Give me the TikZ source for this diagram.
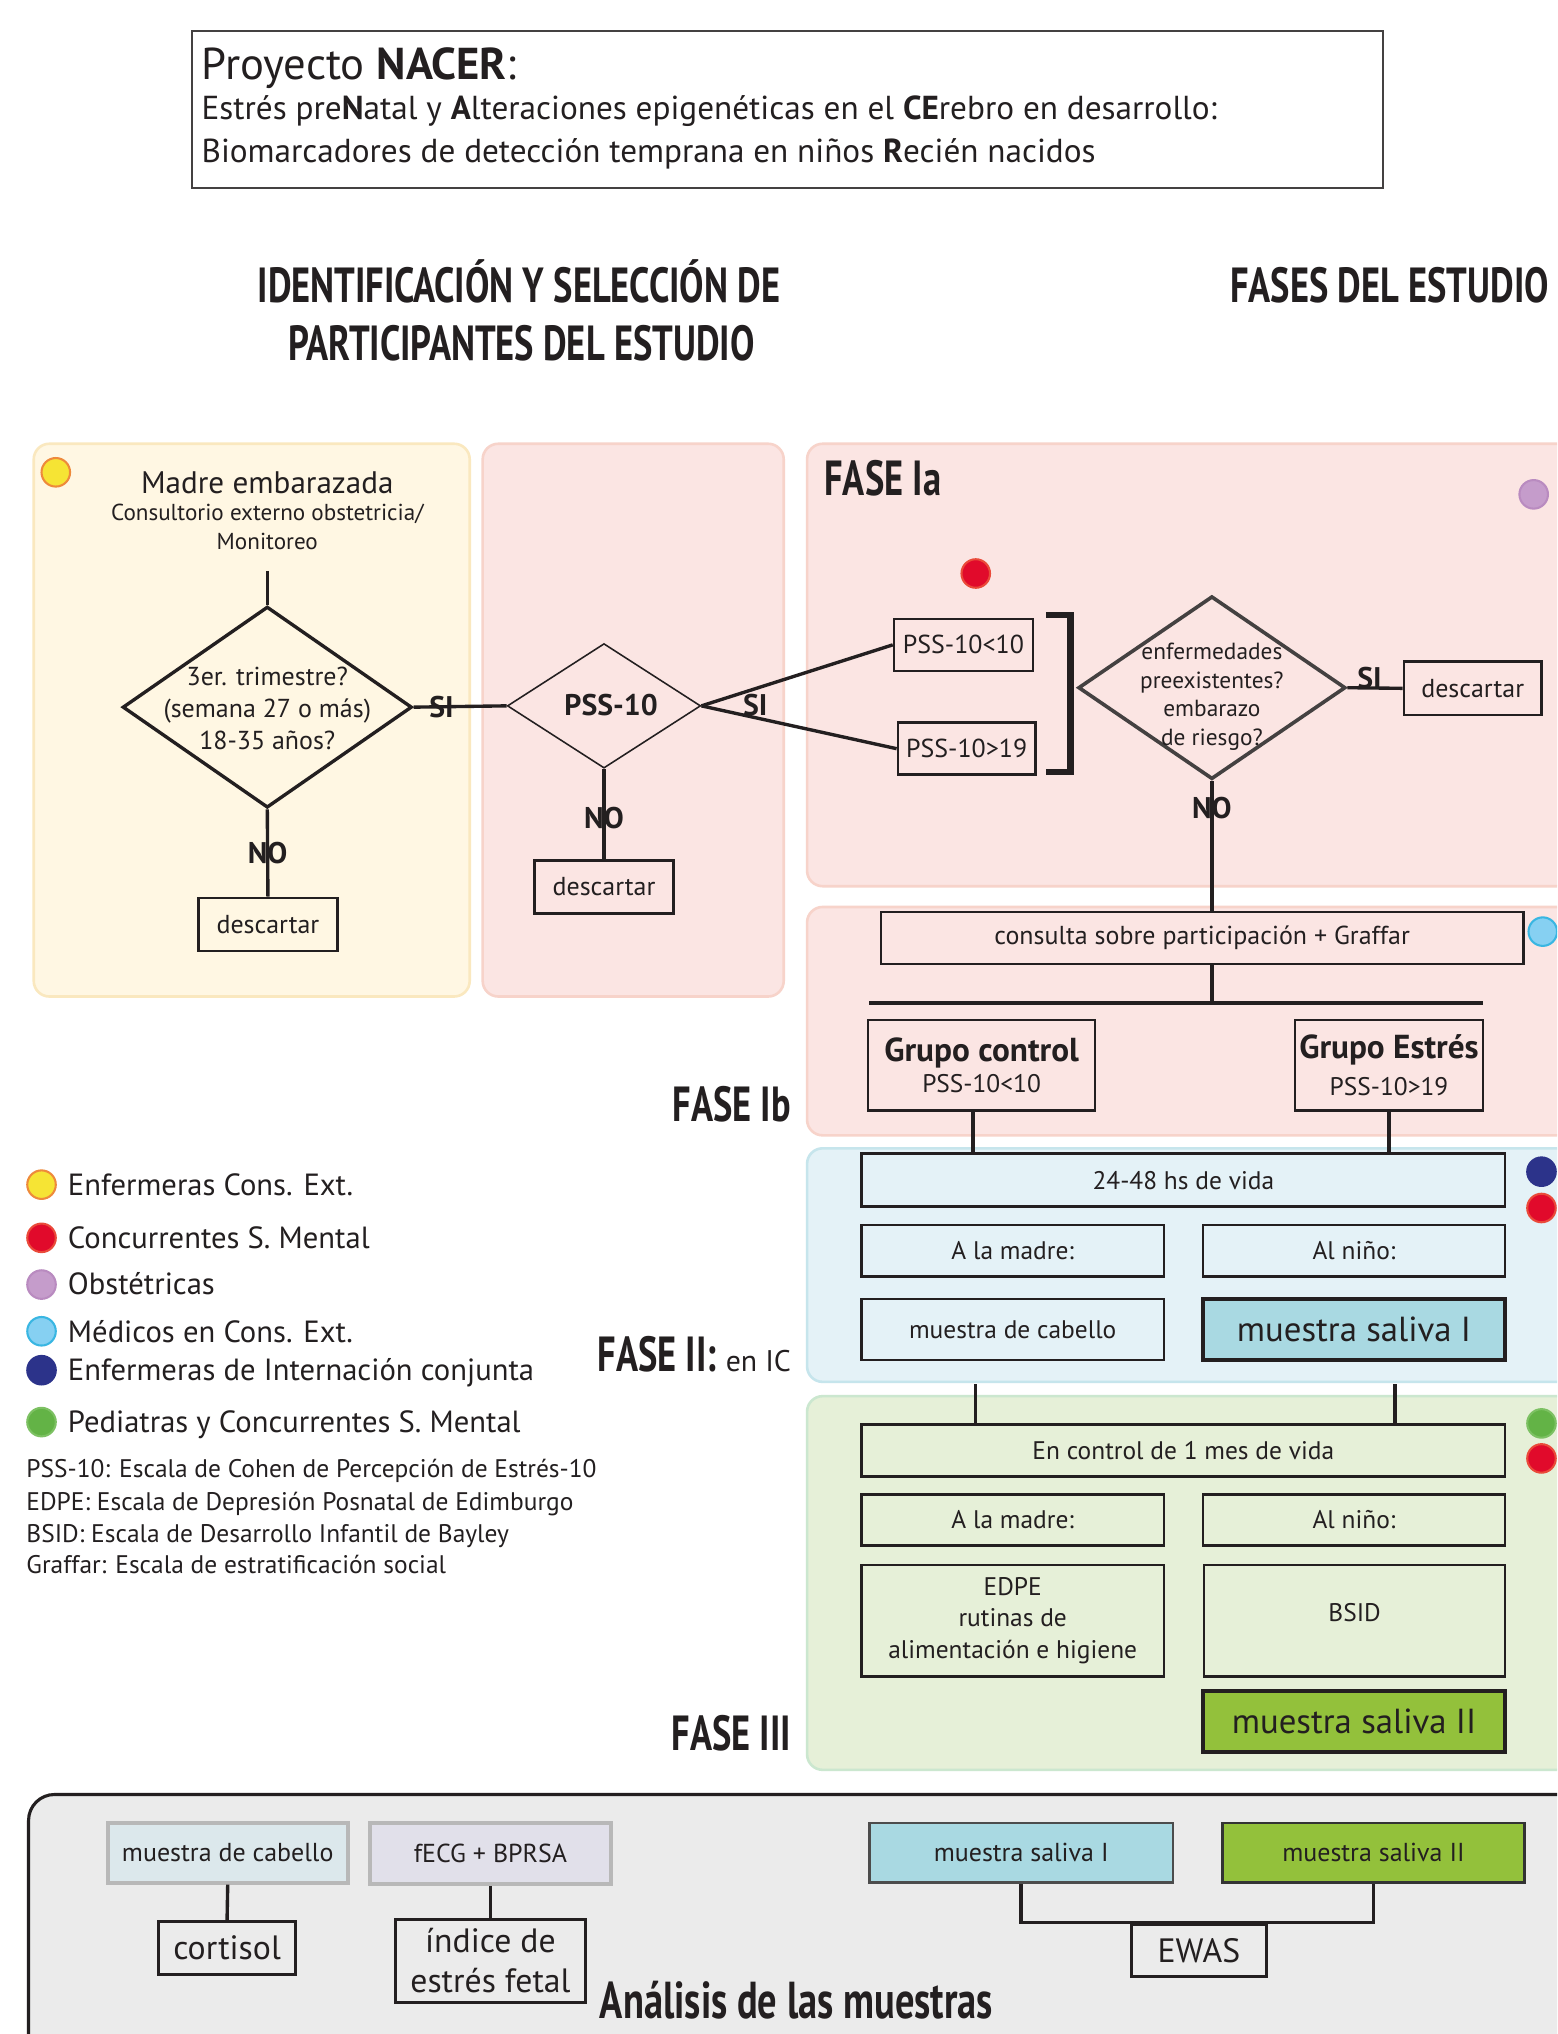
\documentclass[tikz,border=0pt]{standalone}
\usepackage{fontspec}
\setmainfont{PT Sans}
\newfontfamily\condfont[FakeStretch=0.74]{PT Sans}
\usetikzlibrary{shapes.geometric}
\definecolor{ink}{HTML}{231F20}
\definecolor{yelF}{HTML}{FFF7E3}
\definecolor{yelD}{HTML}{FAE8BF}
\definecolor{pinkF}{HTML}{FBE5E3}
\definecolor{pinkD}{HTML}{F7D3CA}
\definecolor{bluF}{HTML}{E4F2F7}
\definecolor{bluD}{HTML}{C6E5EC}
\definecolor{grnF}{HTML}{E6F0D8}
\definecolor{grnD}{HTML}{CBE7CF}
\definecolor{grayF}{HTML}{EBEBEB}
\definecolor{salA}{HTML}{A9D9E2}
\definecolor{salB}{HTML}{93C13B}
\definecolor{cabF}{HTML}{DCE8EC}
\definecolor{ecgF}{HTML}{E1E0EA}
\definecolor{cYel}{HTML}{F6E434}
\definecolor{cYelD}{HTML}{EE8A3B}
\definecolor{cRed}{HTML}{E10A2B}
\definecolor{cRedD}{HTML}{EA4A3A}
\definecolor{cPur}{HTML}{C59CCB}
\definecolor{cPurD}{HTML}{B98BC0}
\definecolor{cLbl}{HTML}{86D0F2}
\definecolor{cLblD}{HTML}{39B6E2}
\definecolor{cDbl}{HTML}{2C338A}
\definecolor{cGrn}{HTML}{63B346}
\definecolor{cGrnD}{HTML}{7DC163}
\newcommand\bx[7][]{\node[box,minimum width={(#5-#3)*0.5pt},minimum height={(#6-#4)*0.5pt},#1] (#2) at ({(#3+#5)/2},{(#4+#6)/2}) {#7};}
\tikzset{
 box/.style={draw=ink,line width=1pt,inner sep=0pt,align=center,text=ink,font=\fontsize{9.8}{12}\selectfont},
 lbl/.style={font=\bfseries\fontsize{11.5}{12}\selectfont,text=ink,inner sep=0pt},
 dot/.style={circle,minimum size=11pt,inner sep=0pt,line width=0.8pt},
 head/.style={font=\condfont\bfseries\fontsize{19}{21}\selectfont,text=ink,inner sep=0pt},
 link/.style={draw=ink,line width=1.3pt},
 txt/.style={text=ink,inner sep=0pt},
 panel/.style={line width=1pt,rounded corners=6pt},
 legtxt/.style={txt,anchor=base west,font=\fontsize{11.8}{13}\selectfont},
 deftxt/.style={txt,anchor=base west,font=\fontsize{9.8}{11}\selectfont},
 big/.style={font=\fontsize{13}{15.5}\selectfont,line width=1.2pt},
}
\begin{document}
\begin{tikzpicture}[x=0.5pt,y=-0.5pt]
\useasboundingbox (0,0) rectangle (1200,1567.6);
\clip (0,0) rectangle (1200,1567.6);
\fill[white] (0,0) rectangle (1200,1567.6);
% panels
\filldraw[panel,fill=yelF,draw=yelD] (26,342) rectangle (362,768);
\filldraw[panel,fill=pinkF,draw=pinkD] (372,342) rectangle (604,768);
\filldraw[panel,fill=pinkF,draw=pinkD] (622,342) rectangle (1230,683);
\filldraw[panel,fill=pinkF,draw=pinkD] (622,699) rectangle (1230,875);
\filldraw[panel,fill=bluF,draw=bluD] (622,885) rectangle (1230,1065);
\filldraw[panel,fill=grnF,draw=grnD] (622,1076) rectangle (1230,1364);
\filldraw[fill=grayF,draw=ink,line width=1.2pt,rounded corners=10pt] (22,1383) rectangle (1240,1620);
% title
\bx[draw=ink!85]{titlebox}{148}{24}{1066}{145}{}
\node[txt,anchor=base west,font=\fontsize{17.2}{19}\selectfont] (t1) at (155,61) {Proyecto \textbf{NACER}:};
\node[txt,anchor=base west,font=\fontsize{12.8}{14}\selectfont] (t2) at (155,92) {Estrés pre\textbf{N}atal y \textbf{A}lteraciones epigenéticas en el \textbf{CE}rebro en desarrollo:};
\node[txt,anchor=base west,font=\fontsize{12.8}{14}\selectfont] (t3) at (155,125) {Biomarcadores de detección temprana en niños \textbf{R}ecién nacidos};
% headings
\node[head,anchor=base] (h1) at (400,233) {IDENTIFICACIÓN Y SELECCIÓN DE};
\node[head,anchor=base] (h2) at (402,278) {PARTICIPANTES DEL ESTUDIO};
\node[head,anchor=base] (h3) at (1071,233) {FASES DEL ESTUDIO};
% yellow panel
\node[dot,fill=cYel,draw=cYelD] (dy) at (43,364) {};
\node[txt,anchor=base,font=\fontsize{12}{14}\selectfont] (madre) at (206,380) {Madre embarazada};
\node[txt,align=center,font=\fontsize{8.9}{11}\selectfont] (madresub) at (206,406) {Consultorio externo obstetricia/\\Monitoreo};
\coordinate (m0) at (206,440);
\node[diamond,draw=ink,line width=1.3pt,minimum width={223*0.5pt},minimum height={155*0.5pt},inner sep=0pt] (d1) at (206,545) {};
\node[txt,align=center,font=\fontsize{10}{12.25}\selectfont] (d1t) at (206,546) {3er. trimestre?\\(semana 27 o más)\\18-35 años?};
\draw[link] (m0) -- (d1.north);
\bx[font=\fontsize{10}{12}\selectfont]{desc1}{153}{692}{260}{733}{descartar}
\draw[link] (d1.south) -- node[lbl]{NO} (desc1.north);
% pink panel
\node[diamond,draw=ink,line width=0.6pt,minimum width={149*0.5pt},minimum height={96*0.5pt},inner sep=0pt] (d2) at (465.5,544) {};
\node[txt,font=\bfseries\fontsize{11.5}{13}\selectfont] (d2t) at (471,543) {PSS-10};
\draw[link] (d1.east) -- node[lbl,pos=0.3]{SI} (d2.west);
\bx[font=\fontsize{10}{12}\selectfont]{desc2}{412}{663}{519}{704}{descartar}
\draw[link] (d2.south) -- node[lbl,pos=0.55]{NO} (desc2.north);
% FASE Ia
\node[head,anchor=base west] (fIa) at (635,382) {FASE Ia};
\node[dot,fill=cPur,draw=cPurD] (dp) at (1182,381) {};
\node[dot,fill=cRed,draw=cRedD] (dr1) at (752,442) {};
\bx[font=\fontsize{10}{12}\selectfont]{p1}{689}{477}{796}{517}{PSS-10<10}
\bx[font=\fontsize{10}{12}\selectfont]{p2}{692}{557}{798}{597}{PSS-10>19}
\draw[link] (d2.east) -- (p1.west);
\draw[link] (d2.east) -- (p2.west);
\node[lbl] (si2) at (582,543) {SI};
\draw[ink,line width=2.6pt] (806,474) -- (825,474) -- (825,595) -- (806,595);
\node[diamond,draw=ink!85,line width=1.4pt,minimum width={206*0.5pt},minimum height={141*0.5pt},inner sep=0pt] (d3) at (934,530) {};
\node[txt,align=center,font=\fontsize{9}{11}\selectfont] (d3t) at (934,537) {enfermedades\\preexistentes?\\embarazo\\de riesgo?};
\bx[font=\fontsize{10}{12}\selectfont]{desc3}{1082}{510}{1188}{551}{descartar}
\draw[link] (d3.east) -- node[lbl,pos=0.4,anchor=south,yshift=-1pt]{SI} (desc3.west);
\bx[font=\fontsize{10}{12}\selectfont]{cons}{679}{703}{1174}{743}{consulta sobre participación + Graffar}
\draw[link] (d3.south) -- node[lbl,pos=0.21]{NO} (d3.south |- cons.north);
% FASE Ib
\node[dot,fill=cLbl,draw=cLblD] (dlb) at (1189,718) {};
\coordinate (bar) at (934,773);
\coordinate (barL) at (670,773);
\coordinate (barR) at (1143,773);
\draw[link] (bar |- cons.south) -- (bar);
\draw[ink,line width=1.6pt] (barL) -- (barR);
\bx{gc}{669}{786}{844}{856}{{\bfseries\fontsize{12.8}{14}\selectfont Grupo control}\\PSS-10<10}
\bx{ge}{998}{786}{1143}{856}{{\bfseries\fontsize{12.8}{14}\selectfont Grupo Estrés}\\[2pt]PSS-10>19}
\node[head,anchor=base east] (fIb) at (610,864) {FASE Ib};
% FASE II
\bx{h24}{664}{889}{1160}{930}{24-48 hs de vida}
\draw[link] ([xshift=-3.25pt]gc.south) -- ([xshift=-3.25pt]gc.south |- h24.north);
\draw[link] (ge.south) -- (ge.south |- h24.north);
\bx{m2}{664}{944}{897}{984}{A la madre:}
\bx{n2}{927}{944}{1160}{984}{Al niño:}
\bx{cab2}{664}{1001}{897}{1048}{muestra de cabello}
\bx[fill=salA,line width=1.6pt,font=\fontsize{13.4}{15}\selectfont]{sal2a}{927}{1001}{1160}{1048}{muestra saliva I}
\node[dot,fill=cDbl,draw=cDbl] (ddb) at (1188,903) {};
\node[dot,fill=cRed,draw=cRedD] (dr2) at (1188,931) {};
\node[head,anchor=base east] (fII) at (610,1057) {FASE II: {\normalfont\fontsize{11.5}{12}\selectfont en IC}};
% FASE III
\coordinate (c3a) at (752,1067);
\coordinate (c3b) at (1075,1067);
\bx{h1m}{664}{1098}{1160}{1138}{En control de 1 mes de vida}
\draw[link] (c3a) -- (c3a |- h1m.north);
\draw[link] (c3b) -- (c3b |- h1m.north);
\bx{m3}{664}{1152}{897}{1191}{A la madre:}
\bx{n3}{927}{1152}{1160}{1191}{Al niño:}
\bx[font=\fontsize{9.8}{12.25}\selectfont]{edpe}{664}{1206}{897}{1292}{EDPE\\rutinas de\\alimentación e higiene}
\bx{bsid}{928}{1206}{1160}{1292}{}
\node[txt,font=\fontsize{9.8}{12}\selectfont] (bsidt) at (1044,1243) {BSID};
\bx[fill=salB,line width=1.6pt,font=\fontsize{13.4}{15}\selectfont]{sal3}{927}{1303}{1160}{1350}{muestra saliva II}
\node[dot,fill=cGrn,draw=cGrnD] (dg) at (1188,1097) {};
\node[dot,fill=cRed,draw=cRedD] (dr3) at (1188,1124) {};
\node[head,anchor=base east] (fIII) at (610,1349) {FASE III};
% legend
\node[dot,fill=cYel,draw=cYelD] (l1) at (32,913) {};
\node[legtxt] (l1t) at (52,921) {Enfermeras Cons. Ext.};
\node[dot,fill=cRed,draw=cRedD] (l2) at (32,954) {};
\node[legtxt] (l2t) at (52,962) {Concurrentes S. Mental};
\node[dot,fill=cPur,draw=cPurD] (l3) at (32,990) {};
\node[legtxt] (l3t) at (52,998) {Obstétricas};
\node[dot,fill=cLbl,draw=cLblD] (l4) at (32,1026) {};
\node[legtxt] (l4t) at (52,1035) {Médicos en Cons. Ext.};
\node[dot,fill=cDbl,draw=cDbl] (l5) at (32,1056) {};
\node[legtxt] (l5t) at (52,1064) {Enfermeras de Internación conjunta};
\node[dot,fill=cGrn,draw=cGrnD] (l6) at (32,1096) {};
\node[legtxt] (l6t) at (52,1104) {Pediatras y Concurrentes S. Mental};
\node[deftxt] (df1) at (20,1139) {PSS-10: Escala de Cohen de Percepción de Estrés-10};
\node[deftxt] (df2) at (20,1164) {EDPE: Escala de Depresión Posnatal de Edimburgo};
\node[deftxt] (df3) at (20,1189) {BSID: Escala de Desarrollo Infantil de Bayley};
\node[deftxt] (df4) at (20,1213) {Graffar: Escala de estratificación social};
% analysis
\bx[fill=cabF,draw=black!28,line width=1.4pt,font=\fontsize{10}{12}\selectfont]{bmc}{83}{1405}{268}{1451}{muestra de cabello}
\bx[fill=ecgF,draw=black!28,line width=1.4pt,font=\fontsize{10}{12}\selectfont]{becg}{285}{1405}{471}{1452}{fECG + BPRSA}
\bx[fill=salA,draw=black!70,font=\fontsize{10}{12}\selectfont]{bs1}{670}{1405}{904}{1451}{muestra saliva I}
\bx[fill=salB,draw=black!80,font=\fontsize{10}{12}\selectfont]{bs2}{942}{1405}{1175}{1451}{muestra saliva II}
\bx[big]{cort}{122}{1481}{228}{1522}{cortisol}
\bx[big]{ind}{305}{1479}{451}{1543}{índice de\\estrés fetal}
\bx[big]{ewas}{872}{1483}{976}{1523}{EWAS}
\draw[link] (bmc.south) -- (cort.north);
\draw[link] (becg.south) -- (ind.north);
\draw[link] (bs1.south) -- (bs1.south |- ewas.north) -- (bs2.south |- ewas.north) -- (bs2.south);
\node[head,anchor=base west,font=\condfont\bfseries\fontsize{20}{22}\selectfont] (anal) at (462,1556) {Análisis de las muestras};
\end{tikzpicture}
\end{document}
